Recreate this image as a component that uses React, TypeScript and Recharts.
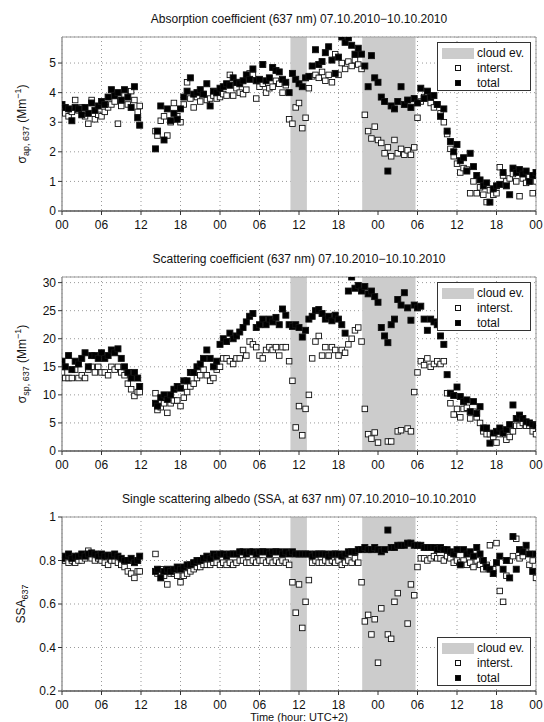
import React from "react";
import {
  ScatterChart,
  Scatter,
  XAxis,
  YAxis,
  CartesianGrid,
  ReferenceArea,
} from "recharts";

// sampling times (hours since 07.10.2010 00:00, UTC+2)
const hours = [
  0, 0.5, 1, 1.5, 2, 2.5, 3, 3.5, 4, 4.5, 5, 5.5, 6, 6.5, 7, 7.5, 8, 8.5, 9, 9.5, 10, 10.5, 11, 11.5, 11.8,
  14.2, 14.5, 15, 15.5, 16, 16.5, 17, 17.5, 18,
  18.5, 19, 19.5, 20, 20.5, 21, 21.5, 22, 22.5, 23, 23.5, 24,
  24.5, 25, 25.5, 26, 26.5, 27, 27.5, 28, 28.5, 29, 29.5, 30,
  30.5, 31, 31.5, 32, 32.5, 33, 33.5, 34, 34.5, 35, 35.5, 36,
  36.5, 37, 37.5, 38, 38.5, 39, 39.5, 40, 40.5, 41, 41.5, 42,
  42.5, 43, 43.5, 44, 44.5, 45, 45.5, 46, 46.5, 47, 47.5, 48,
  48.5, 49, 49.5, 50, 50.5, 51, 51.5, 52, 52.5, 53, 53.5, 54,
  54.5, 55, 55.5, 56, 56.5, 57, 57.5, 58, 58.5, 59, 59.5, 60,
  60.5, 61, 61.5, 62, 62.5, 63, 63.5, 64, 64.5, 65, 65.5, 66,
  66.5, 67, 67.5, 68, 68.5, 69, 69.5, 70, 70.5, 71, 71.5, 72,
];

const xTicks = [0, 6, 12, 18, 24, 30, 36, 42, 48, 54, 60, 66, 72];
const cloudEvents = [
  [34.7, 37.2],
  [45.6, 53.7],
];

// absorption coefficient (Mm-1)
const absTotal = [
  3.6, 3.5, 3.45, 3.05, 3.5, 3.45, 3.25, 3.5, 3.3, 3.65, 3.4, 3.55, 3.7, 3.6, 3.85, 4.1, 3.9, 4.0, 3.75, 4.1, 3.85, 3.5, 4.2, 3.15, 2.9,
  2.1, 2.7, 3.55, 2.4, 3.45, 3.05, 3.3, 3.1, 3.45,
  3.85, 4.05, 4.5, 3.95, 4.0, 4.1, 3.95, 4.3, 3.55, 4.05, 4.0, 4.15,
  4.2, 4.3, 4.25, 4.5, 4.35, 4.3, 4.4, 4.6, 4.45, 4.8, 4.4, 4.45,
  4.95, 4.4, 4.5, 4.85, 4.75, 4.7, 4.45, 4.35, 4.0, 4.65, 4.45, 4.3,
  4.2, 4.5, 4.55, 4.9, 5.45, 4.95, 5.05, 5.35, 5.55, 5.1, 4.65, 5.2,
  5.88, 5.7, 5.85, 5.6, 5.3, 5.5, 5.3, 4.9, 4.2, 5.25, 4.5, 4.35,
  3.85, 3.7, 1.35, 3.55, 3.45, 3.7, 4.2, 3.6, 3.75, 3.5, 3.8, 3.65,
  4.15, 3.8, 4.05, 3.85, 3.9, 3.6, 3.2, 3.45, 2.7, 2.35, 2.0, 2.25,
  1.7, 1.8, 1.35, 1.95, 1.5, 1.2, 1.05, 0.85, 0.95, 0.3, 0.75, 0.85,
  0.9, 1.3, 0.85, 0.55, 1.45, 1.3, 1.4, 1.25, 1.35, 1.0, 1.2, 1.3,
];
const absInt = [
  3.45, 3.3, 3.2, 3.35, 3.75, 3.4, 3.5, 3.2, 2.95, 3.75, 3.1, 3.25, 3.2, 3.35, 3.5, 3.6, 3.7, 2.95, 3.55, 3.9, 3.6, 4.05, 3.75, 3.35, 3.55,
  2.7, 2.55, 3.05, 3.2, 2.55, 3.0, 3.65, 3.2, 3.0,
  3.6, 4.35, 3.8, 3.5, 3.85, 3.7, 3.95, 3.75, 3.8, 3.9, 3.8, 3.85,
  3.95, 3.9, 4.6, 3.9, 4.15, 4.0, 3.95, 4.1, 4.65, 4.6, 3.8, 4.2,
  4.3, 4.0, 4.15, 4.2, 4.4, 4.3, 4.0, 4.25, 3.1, 2.95, 3.5, 3.65,
  2.8, 3.15, 4.15, 4.55, 4.6, 4.5, 4.7, 4.4, 4.6, 4.35, 5.3, 4.6,
  5.0, 4.8, 5.05, 4.9, 5.1, 4.95, 4.8, 3.25, 2.7, 2.45, 2.85, 2.4,
  2.3, 1.95, 2.15, 1.85, 2.4, 1.95, 2.1, 1.9, 2.05, 1.9, 2.15, 3.15,
  3.7, 3.85, 4.0, 3.65, 3.5, 3.6, 3.3, 3.0, 2.6, 2.1, 1.85, 1.6,
  1.3, 1.45, 1.4, 0.6, 1.0, 0.6, 0.8, 0.55, 0.3, 0.7, 0.55, 0.6,
  1.48, 1.2, 1.0, 1.1, 1.25, 1.0, 0.5, 1.1, 0.95, 1.15, 0.6, 1.0,
];

// scattering coefficient (Mm-1)
const scaTotal = [
  16, 15, 17, 14.5, 16, 15.5, 16.5, 17.5, 15, 17, 17, 16.5, 17.5, 16.5, 17, 18, 17.5, 18.2, 16.5, 15, 14, 13, 14, 13, 11.5,
  8.5, 8, 9.5, 10, 9.2, 10, 11, 11.5, 11.2,
  12.5, 12.5, 14, 14, 15, 15.5, 16.5, 18, 16.5, 15, 16, 19,
  20, 19.5, 21, 20, 20.5, 21.2, 22, 23, 24, 24.5, 22, 22.5,
  23.5, 22.5, 23.5, 23, 23.8, 22.5, 25.3, 24.2, 22.5, 22.2, 22.5, 22,
  20.3, 21.5, 23.5, 24, 25, 25.2, 24.5, 23.5, 24, 23.2, 24.2, 23.5,
  22.5, 21, 28.5, 31, 29, 29.5, 28.5, 29.3, 28, 28.5, 27.5, 26.5,
  22, 20.5, 19.3, 22.5, 23.5, 27, 26, 28.2, 25.5, 23.3, 26, 25.5,
  25.8, 23.5, 21.5, 23.5, 23, 22.5, 20.5, 19, 13.6, 10.3, 9.9, 11.4,
  9.7, 8.8, 9.1, 7.0, 8.8, 6.7, 7.9, 4.1, 4.1, 1.4, 3.2, 3.5,
  4.1, 3.2, 3.8, 4.7, 8.2, 5.8, 6.4, 5.8, 5.2, 5.0, 4.7, 4.5,
];
const scaInt = [
  14, 13, 13, 13, 14.5, 13, 13.5, 13, 14.5, 15, 14, 15, 14, 14, 13.5, 15, 14.5, 15, 14, 13.5, 12, 11, 9.8, 10.5, 10.5,
  10.3, 7.3, 7.8, 8.5, 6.8, 8.5, 9, 9, 8,
  9.5, 10.5, 11.5, 12, 13, 13.5, 14.5, 13.5, 12.5, 13, 14.5, 15,
  16.5, 16.5, 16, 15.5, 16.5, 16.5, 18, 17, 19.5, 19, 18.5, 17,
  16.5, 18, 18.5, 18, 18.5, 17, 18.5, 18.5, 16, 12.5, 4.2, 8,
  2.8, 7.5, 10, 16.5, 19.5, 20.5, 17, 18.5, 17, 18.5, 18, 17,
  18, 17.5, 19, 20, 21.5, 22, 19.5, 7.5, 3, 2.2, 3.3, 1.5,
  null, null, 1.7, 1.7, null, 3.5, 3.7, null, 4, 3.5, 10.5, 14,
  16, 15.3, 16.5, 15, 15.5, 16, 15.5, 16, 10.3, 8.5, 6.5, 7.5,
  6, 7.5, 7.7, 5.8, 7, 6, 5, 3.5, 3, 3, 2.5, 1.5,
  3, 3.5, 2, 2.5, 3.5, 4.5, 4.5, 5, 4.5, 4.5, 3.5, 3,
];

// single scattering albedo
const ssaTotal = [
  0.81, 0.82, 0.83, 0.81, 0.82, 0.82, 0.83, 0.82, 0.83, 0.835, 0.83, 0.82, 0.83, 0.82, 0.825, 0.82, 0.83, 0.82, 0.81, 0.8, 0.8, 0.81, 0.79, 0.8, 0.82,
  0.75, 0.76, 0.72, 0.75, 0.76, 0.75, 0.76, 0.77, 0.76,
  0.77, 0.78, 0.78, 0.79, 0.8, 0.8, 0.81, 0.82, 0.81, 0.83, 0.82, 0.83,
  0.83, 0.82, 0.83, 0.83, 0.83, 0.84, 0.84, 0.83, 0.84, 0.84, 0.83, 0.84,
  0.84, 0.84, 0.83, 0.84, 0.84, 0.84, 0.83, 0.84, 0.83, 0.84, 0.83, 0.83,
  0.83, 0.83, 0.83, 0.82, 0.83, 0.83, 0.83, 0.83, 0.82, 0.83, 0.83, 0.83,
  0.82, 0.83, 0.84, 0.84, 0.84, 0.85, 0.85, 0.86, 0.85, 0.85, 0.86, 0.85,
  0.84, 0.85, 0.94, 0.86, 0.86, 0.87, 0.87, 0.87, 0.88, 0.88, 0.87, 0.87,
  0.87, 0.86, 0.86, 0.86, 0.86, 0.85, 0.86, 0.85, 0.85, 0.84, 0.83, 0.85,
  0.78, 0.85, 0.83, 0.84, 0.82, 0.86, 0.83, 0.8, 0.77, 0.76, 0.74, 0.79,
  0.82, 0.76, 0.8, 0.72, 0.91, 0.76, 0.85, 0.84, 0.87, 0.83, 0.75, 0.83,
];
const ssaInt = [
  0.8, 0.8, 0.79, 0.8, 0.79, 0.8, 0.8, 0.81, 0.845, 0.81, 0.8, 0.81, 0.8, 0.79, 0.78, 0.8, 0.8, 0.79, 0.78, 0.77, 0.75, 0.74, 0.72, 0.75, 0.75,
  0.83, 0.74, 0.76, 0.73, 0.69, 0.74, 0.74, 0.73, 0.7,
  0.73, 0.74, 0.75, 0.76, 0.77, 0.77, 0.78, 0.78, 0.78, 0.79, 0.79, 0.78,
  0.79, 0.78, 0.79, 0.78, 0.79, 0.8, 0.8, 0.79, 0.79, 0.8, 0.79, 0.8,
  0.8, 0.79, 0.8, 0.79, 0.8, 0.79, 0.8, 0.79, 0.78, 0.7, 0.56, 0.69,
  0.49, 0.61, 0.71, 0.79, 0.8, 0.79, 0.79, 0.8, 0.79, 0.8, 0.79, 0.8,
  0.78, 0.79, 0.8, 0.79, 0.81, 0.79, 0.7, 0.52, 0.55, 0.46, 0.53, 0.33,
  0.58, null, 0.46, 0.44, 0.61, 0.65, null, null, 0.51, 0.69, 0.64, 0.77,
  0.81, 0.81, 0.8, 0.81, 0.82, 0.81, 0.81, 0.8, 0.82, 0.81, 0.79, 0.8,
  0.79, 0.8, 0.78, 0.79, 0.77, 0.8, 0.78, 0.76, 0.78, 0.87, 0.76, 0.88,
  0.66, 0.61, 0.73, 0.8, 0.82, 0.9, 0.81, 0.82, 0.84, 0.78, 0.8, 0.72,
];

const FONT = "'Liberation Sans', Arial, Helvetica, sans-serif";
const W = 544;
const PANEL_H = 240;
const PLOT_L = 62;
const PLOT_R = 536;
const PLOT_T = 37;
const PLOT_B = 211;

const toPoints = (vals: (number | null)[]) =>
  hours
    .map((h, i) => ({ x: h, y: vals[i] }))
    .filter((p) => p.y !== null && p.y !== undefined);

const hourLabel = (v: number) => String(v % 24).padStart(2, "0");

const square = (fill: string, size: number) => (props: any) => {
  if (props.cx == null || props.cy == null) return <g />;
  return (
    <rect
      x={props.cx - size / 2}
      y={props.cy - size / 2}
      width={size}
      height={size}
      fill={fill}
      stroke="#111"
      strokeWidth={0.9}
    />
  );
};

const Legend = ({ left, top }: { left: number; top: number }) => (
  <div
    style={{
      position: "absolute",
      left,
      top,
      width: 94,
      height: 49,
      boxSizing: "border-box",
      border: "1px solid #333",
      background: "#fff",
      fontSize: 12,
      color: "#111",
    }}
  >
    {[
      { label: "cloud ev.", kind: "band" },
      { label: "interst.", kind: "open" },
      { label: "total", kind: "filled" },
    ].map((r, i) => (
      <div key={r.label} style={{ position: "absolute", left: 0, top: 3 + i * 15, height: 14, width: 92 }}>
        {r.kind === "band" ? (
          <div style={{ position: "absolute", left: 4, top: 2, width: 32, height: 11, background: "#cccccc" }} />
        ) : (
          <div
            style={{
              position: "absolute",
              left: 17,
              top: 4,
              width: 6,
              height: 6,
              boxSizing: "border-box",
              border: "1px solid #111",
              background: r.kind === "filled" ? "#000" : "#fff",
            }}
          />
        )}
        <span style={{ position: "absolute", left: 39, top: 0, lineHeight: "14px", whiteSpace: "nowrap" }}>{r.label}</span>
      </div>
    ))}
  </div>
);

type PanelProps = {
  top: number;
  title: string;
  yDomain: [number, number];
  yTicks: number[];
  inter: (number | null)[];
  total: (number | null)[];
  yLabel: React.ReactNode;
  legendBottom?: boolean;
};

const Panel = ({ top, title, yDomain, yTicks, inter, total, yLabel, legendBottom }: PanelProps) => (
  <div style={{ position: "absolute", left: 0, top, width: W, height: PANEL_H }}>
    <div
      style={{
        position: "absolute",
        left: PLOT_L,
        width: PLOT_R - PLOT_L,
        top: 12,
        textAlign: "center",
        fontSize: 12,
        lineHeight: "14px",
        color: "#111",
        whiteSpace: "nowrap",
      }}
    >
      {title}
    </div>
    <ScatterChart
      width={W}
      height={PANEL_H}
      margin={{ top: PLOT_T, right: W - PLOT_R, bottom: PANEL_H - PLOT_B - 20, left: 0 }}
    >
      <CartesianGrid stroke="#999" strokeDasharray="1 3" />
      {cloudEvents.map(([a, b]) => (
        <ReferenceArea key={a} x1={a} x2={b} y1={yDomain[0]} y2={yDomain[1]} fill="#cccccc" fillOpacity={1} stroke="none" />
      ))}
      <XAxis
        type="number"
        dataKey="x"
        domain={[0, 72]}
        ticks={xTicks}
        interval={0}
        allowDataOverflow
        tickFormatter={hourLabel}
        height={20}
        tickSize={4}
        tickMargin={5}
        stroke="#333"
        tick={{ fill: "#111", fontSize: 12, fontFamily: FONT }}
      />
      <YAxis
        type="number"
        dataKey="y"
        domain={yDomain}
        ticks={yTicks}
        interval={0}
        allowDataOverflow
        width={PLOT_L}
        tickSize={4}
        tickMargin={2}
        stroke="#999"
        tickLine={{ stroke: "#333" }}
        tick={{ fill: "#111", fontSize: 12, fontFamily: FONT }}
      />
      <Scatter data={toPoints(inter)} shape={square("#fff", 5.5)} isAnimationActive={false} />
      <Scatter data={toPoints(total)} shape={square("#000", 6)} isAnimationActive={false} />
      <ReferenceArea x1={0} x2={72} y1={yDomain[0]} y2={yDomain[1]} fill="none" stroke="#999" strokeWidth={1} />
    </ScatterChart>
    <div style={{ position: "absolute", left: 22, top: (PLOT_T + PLOT_B) / 2, width: 0, height: 0 }}>
      <div
        style={{
          position: "absolute",
          left: 0,
          top: 0,
          transform: "translate(-50%, -50%) rotate(-90deg)",
          whiteSpace: "nowrap",
          fontSize: 12,
          color: "#111",
        }}
      >
        {yLabel}
      </div>
    </div>
    <Legend left={437} top={legendBottom ? PLOT_B - 5 - 49 : PLOT_T + 5} />
  </div>
);

const sub = { fontSize: 9, verticalAlign: "-3px" } as React.CSSProperties;
const sup = { fontSize: 9, verticalAlign: "5px" } as React.CSSProperties;

export default function App() {
  return (
    <div
      style={{
        position: "absolute",
        left: 0,
        top: 0,
        width: W,
        height: 722,
        background: "#fff",
        fontFamily: FONT,
      }}
    >
      <Panel
        top={0}
        title="Absorption coefficient (637 nm) 07.10.2010−10.10.2010"
        yDomain={[0, 5.88]}
        yTicks={[0, 1, 2, 3, 4, 5]}
        inter={absInt}
        total={absTotal}
        yLabel={
          <span>
            σ<span style={sub}>ap, 637</span> (Mm<span style={sup}>−1</span>)
          </span>
        }
      />
      <Panel
        top={240}
        title="Scattering coefficient (637 nm) 07.10.2010−10.10.2010"
        yDomain={[0, 31]}
        yTicks={[0, 5, 10, 15, 20, 25, 30]}
        inter={scaInt}
        total={scaTotal}
        yLabel={
          <span>
            σ<span style={sub}>sp, 637</span> (Mm<span style={sup}>−1</span>)
          </span>
        }
      />
      <Panel
        top={480}
        title="Single scattering albedo (SSA, at 637 nm) 07.10.2010−10.10.2010"
        yDomain={[0.2, 1]}
        yTicks={[0.2, 0.4, 0.6, 0.8, 1]}
        inter={ssaInt}
        total={ssaTotal}
        legendBottom
        yLabel={
          <span>
            SSA<span style={sub}>637</span>
          </span>
        }
      />
      <div
        style={{
          position: "absolute",
          left: PLOT_L,
          width: PLOT_R - PLOT_L,
          top: 711,
          textAlign: "center",
          fontSize: 11,
          lineHeight: "12px",
          color: "#111",
        }}
      >
        Time (hour: UTC+2)
      </div>
    </div>
  );
}
